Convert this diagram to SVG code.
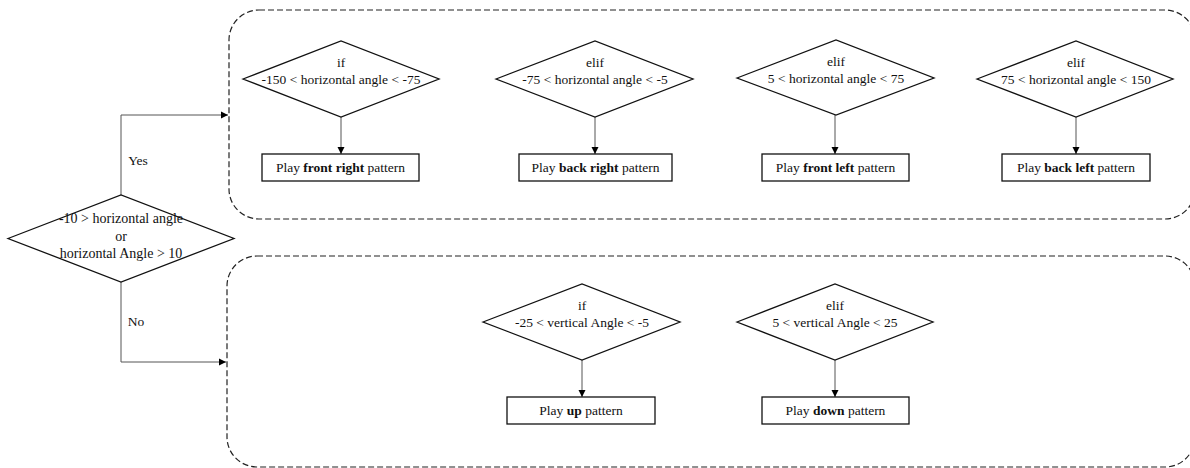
<svg xmlns="http://www.w3.org/2000/svg" width="1190" height="468" viewBox="0 0 1190 468">
<defs>
<marker id="arr" markerWidth="8" markerHeight="8" refX="7" refY="4" orient="auto" markerUnits="userSpaceOnUse">
<path d="M0,0.5 L7,4 L0,7.5 Z" fill="#000"/>
</marker>
<style>
.t{font-family:"Liberation Serif","Times New Roman",serif;font-size:13.5px;fill:#111;text-anchor:middle}
.m{font-size:14px}
.b{font-weight:bold}
.d{fill:#fff;stroke:#111;stroke-width:1.3}
.r{fill:#fff;stroke:#111;stroke-width:1.3}
.c{fill:none;stroke:#555;stroke-width:1}
.g{fill:none;stroke:#222;stroke-width:1.2;stroke-dasharray:6,3}
</style>
</defs>
<rect width="1190" height="468" fill="#fff"/>
<g id="groups">
<rect id="group-yes" class="g" x="229" y="10" width="966" height="209" rx="30" ry="30"/>
<rect id="group-no" class="g" x="227" y="256" width="968" height="211" rx="30" ry="30"/>
</g>
<g id="connectors">
<polyline class="c" points="121,195 121,115 228,115" marker-end="url(#arr)"/>
<polyline class="c" points="121,282 121,362 226,362" marker-end="url(#arr)"/>
<line class="c" x1="341" y1="117" x2="341" y2="154" marker-end="url(#arr)"/>
<line class="c" x1="595" y1="117" x2="595" y2="154" marker-end="url(#arr)"/>
<line class="c" x1="835" y1="115" x2="835" y2="154" marker-end="url(#arr)"/>
<line class="c" x1="1076" y1="117" x2="1076" y2="154" marker-end="url(#arr)"/>
<line class="c" x1="582" y1="360" x2="582" y2="397" marker-end="url(#arr)"/>
<line class="c" x1="835" y1="360" x2="835" y2="397" marker-end="url(#arr)"/>
<text class="t" x="138" y="165">Yes</text>
<text class="t" x="136" y="326">No</text>
</g>
<g id="main-decision">
<polygon class="d" points="8,238.5 121,195 234,238.5 121,282"/>
<text class="t m" x="121" y="223">-10 &gt; horizontal angle</text>
<text class="t m" x="121" y="241">or</text>
<text class="t m" x="121" y="258">horizontal Angle &gt; 10</text>
</g>
<g id="d1">
<polygon class="d" points="243,79 341,41 439,79 341,117"/>
<text class="t" x="341" y="67">if</text>
<text class="t" x="341" y="84">-150 &lt; horizontal angle &lt; -75</text>
</g>
<g id="r1">
<rect class="r" x="262" y="154" width="157" height="27"/>
<text class="t" x="340.5" y="172">Play <tspan class="b">front right</tspan> pattern</text>
</g>
<g id="d2">
<polygon class="d" points="496,79 595,41 693,79 595,117"/>
<text class="t" x="595" y="67">elif</text>
<text class="t" x="595" y="84">-75 &lt; horizontal angle &lt; -5</text>
</g>
<g id="r2">
<rect class="r" x="519" y="154" width="153" height="27"/>
<text class="t" x="595.5" y="172">Play <tspan class="b">back right</tspan> pattern</text>
</g>
<g id="d3">
<polygon class="d" points="737,78 836,40 934,78 836,115"/>
<text class="t" x="836" y="66">elif</text>
<text class="t" x="836" y="83">5 &lt; horizontal angle &lt; 75</text>
</g>
<g id="r3">
<rect class="r" x="762" y="154" width="147" height="27"/>
<text class="t" x="835.5" y="172">Play <tspan class="b">front left</tspan> pattern</text>
</g>
<g id="d4">
<polygon class="d" points="977,79 1076,41 1173,79 1076,117"/>
<text class="t" x="1076" y="67">elif</text>
<text class="t" x="1076" y="84">75 &lt; horizontal angle &lt; 150</text>
</g>
<g id="r4">
<rect class="r" x="1002" y="154" width="148" height="27"/>
<text class="t" x="1076" y="172">Play <tspan class="b">back left</tspan> pattern</text>
</g>
<g id="d5">
<polygon class="d" points="483,322 582,284 680,322 582,360"/>
<text class="t" x="582" y="310">if</text>
<text class="t" x="582" y="327">-25 &lt; vertical Angle &lt; -5</text>
</g>
<g id="r5">
<rect class="r" x="507" y="397" width="148" height="27"/>
<text class="t" x="581" y="415">Play <tspan class="b">up</tspan> pattern</text>
</g>
<g id="d6">
<polygon class="d" points="737,322 835,284 933,322 835,360"/>
<text class="t" x="835" y="310">elif</text>
<text class="t" x="835" y="327">5 &lt; vertical Angle &lt; 25</text>
</g>
<g id="r6">
<rect class="r" x="762" y="397" width="147" height="27"/>
<text class="t" x="835.5" y="415">Play <tspan class="b">down</tspan> pattern</text>
</g>
</svg>
